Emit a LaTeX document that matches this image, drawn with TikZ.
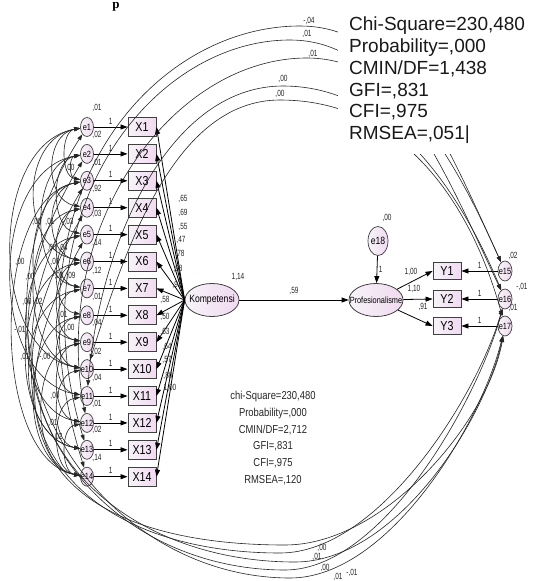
\documentclass[tikz,border=0pt]{standalone}
\usepackage{fontspec}
\setmainfont{Liberation Sans}
\newfontfamily\narrowfont[FakeStretch=0.82]{Liberation Sans}
\newfontfamily\tinyfont[FakeStretch=0.72]{Liberation Sans}
\newfontfamily\captionfont{Liberation Serif}
\usepackage{xcolor}
\usepackage{tikz}
\usetikzlibrary{shapes.geometric, arrows.meta, positioning, calc}
\definecolor{amospink}{RGB}{240,218,240}
\definecolor{amoslight}{RGB}{247,243,249}

\begin{document}
\begin{tikzpicture}[
    x=1pt, y=1pt,
    observed/.style={rectangle, draw=black!75, line width=0.9pt, left color=amoslight, right color=amospink, minimum width=28pt, minimum height=19pt, inner sep=0pt, font=\narrowfont\fontsize{13}{13}\selectfont},
    errvar/.style={ellipse, draw=black!75, line width=0.7pt, left color=amoslight, right color=amospink, minimum width=13pt, minimum height=19pt, inner sep=0pt, label={[inlbl]center:#1}},
    latent/.style={ellipse, draw=black!75, line width=0.8pt, left color=amoslight, right color=amospink, minimum width=54pt, minimum height=33pt, inner sep=0pt, label={[latlbl]center:#1}},
    inlbl/.style={inner sep=0pt, font=\narrowfont\fontsize{9}{9}\selectfont},
    latlbl/.style={inner sep=0pt, font=\narrowfont\fontsize{10.5}{10.5}\selectfont},
    lbl/.style={inner sep=0.5pt, text=black!85, font=\tinyfont\fontsize{9}{9}\selectfont},
    arrow/.style={-{Triangle[length=7pt, width=5pt]}, line width=0.8pt},
    covline/.style={{Triangle[length=6pt, width=4pt]}-{Triangle[length=6pt, width=4pt]}, line width=0.6pt, black!85},
    gofbox/.style={fill=white, align=left, inner xsep=11pt, inner ysep=11pt, text=black!90, font=\fontsize{19}{21.7}\selectfont},
    gofsmall/.style={align=center, inner sep=0pt, text=black!85, font=\narrowfont\fontsize{11.5}{16.7}\selectfont}
]
\useasboundingbox[fill=white] (0,0) rectangle (537,-581);

\node[anchor=north, inner sep=0pt, font=\captionfont\bfseries\fontsize{13}{13}\selectfont] (cap) at (116,-2.5) {p};

% indicators of Kompetensi
\foreach \i in {1,...,14} {
  \pgfmathsetmacro{\yy}{-127-26.9*(\i-1)}
  \node[observed] (X\i) at (142,\yy) {X\i};
  \node[errvar=e\i] (e\i) at (87,\yy) {};
  \draw[arrow] (e\i) -- node[lbl, above=2pt] (one\i) {1} (X\i);
}

\node[latent={Kompetensi}] (Kompetensi) at (212,-300) {};
\node[latent={\fontsize{9}{9}\selectfont Profesionalisme}] (Profesionalisme) at (376,-300) {};
\node[ellipse, draw=black!75, line width=0.7pt, left color=amoslight, right color=amospink, minimum width=20pt, minimum height=29pt, inner sep=0pt, label={[latlbl]center:e18}] (e18) at (378,-241) {};

% indicators of Profesionalisme
\foreach \j/\yy in {1/271, 2/299, 3/326} {
  \node[observed, minimum height=17pt] (Y\j) at (447,-\yy) {Y\j};
  \pgfmathtruncatemacro{\k}{14+\j}
  \node[errvar=e\k, minimum width=14pt, minimum height=20pt] (e\k) at (505,-\yy) {};
  \draw[arrow] (e\k) -- node[lbl, above=2pt] (oney\j) {1} (Y\j);
}

% loadings
\foreach \i/\v/\lx/\ly in {1/{,65}/183/199, 2/{,69}/183/213, 3/{,55}/183/227, 4/{,47}/181/240, 5/{,78}/180/254, 6/{,98}/178/269, 7/{,97}/177/285, 8/{,58}/165/300, 9/{,50}/165/317, 10/{,63}/165/332, 11/{,64}/167/347, 12/{,57}/167/360, 13/{,80}/168/376, 14/{1,00}/170/388} {
  \draw[arrow] (Kompetensi.west) -- (X\i.east);
  \node[lbl] (w\i) at (\lx,-\ly) {\v};
}

\draw[arrow] (Kompetensi) -- node[lbl, above=4pt] (b59) {,59} (Profesionalisme);
\draw[arrow] (e18) -- node[lbl, right=1pt] (one18) {1} (Profesionalisme);
\draw[arrow] (Profesionalisme) -- (Y1.west);
\draw[arrow] (Profesionalisme) -- (Y2.west);
\draw[arrow] (Profesionalisme) -- (Y3.west);
\node[lbl] (v114) at (238,-277) {1,14};
\node[lbl] (v18) at (387,-218) {,00};
\node[lbl] (ly1) at (411,-272) {1,00};
\node[lbl] (ly2) at (414,-289) {1,10};
\node[lbl] (ly3) at (423,-307) {,91};

% error variances
\foreach \i/\v/\ly in {1/{,01}/108, 2/{,02}/135, 3/{,01}/163, 4/{,92}/189, 5/{,03}/214, 6/{,14}/243, 7/{,12}/271, 8/{,01}/297, 9/{,04}/323, 10/{,02}/352, 11/{,04}/378, 12/{,01}/404, 13/{,02}/430, 14/{,14}/458}
  \node[lbl] (ve\i) at (97,-\ly) {\v};

% covariances between errors
\foreach \a/\b/\l in {1/3/1, 2/3/1.2, 1/4/1.2, 2/5/1, 3/6/1.2, 4/7/1, 5/8/1, 6/9/1, 7/10/1, 8/11/1, 9/12/1, 10/13/1, 11/14/1, 12/14/1, 2/7/1, 1/6/1.2, 3/9/1, 4/10/1, 5/12/1, 6/13/1, 7/13/1.1, 8/14/1, 9/14/1, 1/10/1, 2/11/1, 3/14/0.8}
  \draw[covline] (e\a) to[out=190, in=170, looseness=\l] (e\b);

\draw[covline] (e14) .. controls (0,-200) and (150,-26) .. (300,-26) .. controls (400,-26) and (445,-140) .. (e15);
\draw[covline] (e13) .. controls (15,-215) and (150,-40) .. (290,-40) .. controls (390,-40) and (440,-160) .. (e16);
\draw[covline] (e12) .. controls (50,-230) and (170,-58) .. (307,-58) .. controls (400,-58) and (455,-160) .. (e15);
\draw[covline] (e11) .. controls (100,-240) and (170,-86) .. (283,-86) .. controls (385,-86) and (455,-180) .. (e16);
\draw[covline] (e10) .. controls (125,-250) and (174,-100) .. (280,-100) .. controls (400,-100) and (470,-200) .. (e17);

\draw[covline] (e1) .. controls (-60,-357) and (100,-578) .. (290,-578) .. controls (390,-578) and (482,-421) .. (e17);
\draw[covline] (e2) .. controls (-55,-384) and (95,-570) .. (285,-570) .. controls (385,-570) and (480,-394) .. (e16);
\draw[covline] (e3) .. controls (-50,-411) and (105,-562) .. (295,-562) .. controls (395,-562) and (485,-421) .. (e17);
\draw[covline] (e4) .. controls (-45,-438) and (90,-553) .. (280,-553) .. controls (380,-553) and (478,-394) .. (e16);
\draw[covline] (e5) .. controls (-40,-465) and (95,-545) .. (285,-545) .. controls (385,-545) and (488,-421) .. (e17);

\foreach \x/\y/\t [count=\n] in {70/168/{,00}, 37/222/{,00}, 50/222/{,01}, 68/222/{-,03}, 52/248/{,00}, 63/248/{,04}, 20/262/{,00}, 55/262/{,00}, 30/277/{,00}, 58/276/{-,00}, 71/276/{,09}, 27/302/{,00}, 38/302/{,02}, 63/315/{,01}, 20/330/{-,01}, 70/328/{,00}, 25/357/{,01}, 45/357/{-,00}, 55/396/{,00}, 53/423/{,01}, 58/437/{,02}, 513/256/{,02}, 522/287/{-,01}, 513/308/{,01}, 309/21/{-,04}, 307/34/{,01}, 313/54/{,01}, 283/79/{,00}, 280/94/{,00}, 322/548/{,00}, 317/557/{,01}, 325/568/{,00}, 352/573/{-,01}, 338/577/{,01}}
  \node[lbl] (cv\n) at (\x,-\y) {\t};

% fit indices
\node[gofbox, anchor=north west] (gof) at (338,-6) {Chi-Square=230,480\\Probability=,000\\CMIN/DF=1,438\\GFI=,831\\CFI=,975\\RMSEA=,051|};
\node[gofsmall] (gofb) at (273,-438) {chi-Square=230,480\\Probability=,000\\CMIN/DF=2,712\\GFI=,831\\CFI=,975\\RMSEA=,120};

\end{tikzpicture}
\end{document}
